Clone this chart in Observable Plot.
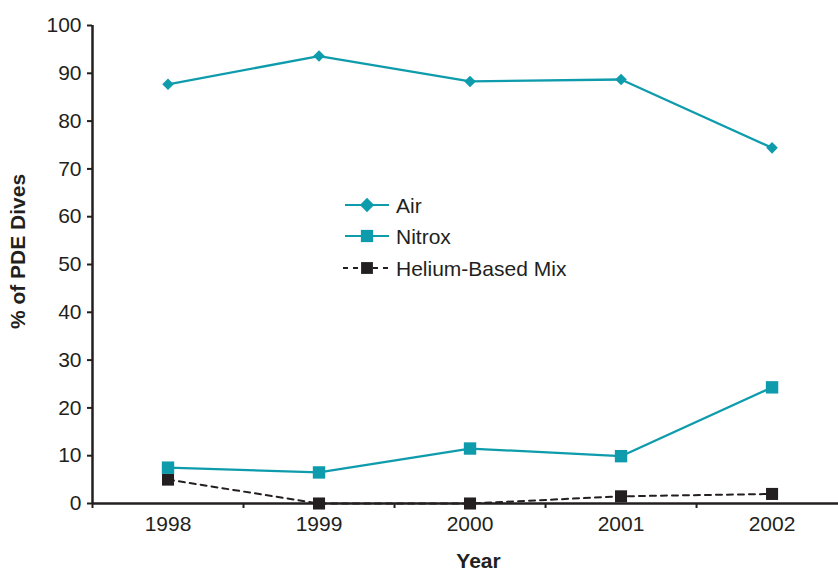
<!DOCTYPE html>
<html>
<head>
<meta charset="utf-8">
<script src="https://cdn.jsdelivr.net/npm/d3@7"></script>
<script src="https://cdn.jsdelivr.net/npm/@observablehq/plot@0.6"></script>
<style>
  html, body { margin: 0; padding: 0; background: #fff; }
  #wrap { position: relative; width: 838px; height: 573px; font-family: "Liberation Sans", Arial, sans-serif; }
  #legend { position: absolute; left: 0; top: 0; pointer-events: none; }
</style>
</head>
<body>
<div id="wrap"></div>
<script>
const years = [1998, 1999, 2000, 2001, 2002];
const air = [87.7, 93.6, 88.3, 88.7, 74.4];
const nitrox = [7.5, 6.5, 11.5, 9.9, 24.3];
const helium = [5.0, 0, 0, 1.5, 2.0];
const yTicks = [0, 10, 20, 30, 40, 50, 60, 70, 80, 90, 100];
const seriesNames = ["Air", "Nitrox", "Helium-Based Mix"];

const TEAL = "#0E9CAC";
const DARK = "#231F20";

const airData = years.map((year, i) => ({year, value: air[i]}));
const nitroxData = years.map((year, i) => ({year, value: nitrox[i]}));
const heliumData = years.map((year, i) => ({year, value: helium[i]}));
const boundaries = years.map(y => y - 0.5);

const chart = Plot.plot({
  width: 838,
  height: 573,
  marginLeft: 92,
  marginRight: 0,
  marginTop: 25,
  marginBottom: 70,
  style: {fontFamily: "Liberation Sans, Arial, sans-serif", fontSize: "21px", color: DARK, background: "#fff"},
  x: {domain: [1997.5, 2002.44]},
  y: {domain: [0, 100]},
  marks: [
    Plot.axisY({ticks: yTicks, tickSize: 5, tickPadding: 6, label: null, strokeWidth: 2, stroke: DARK, fill: DARK, fontSize: 21}),
    Plot.axisX({ticks: boundaries, tickSize: 5, tickFormat: () => "", label: null, strokeWidth: 2, stroke: DARK}),
    Plot.axisX({ticks: years, tickSize: 0, tickPadding: 13, tickFormat: d => String(d), label: null, fill: DARK, fontSize: 21}),
    Plot.ruleX([1997.5], {stroke: DARK, strokeWidth: 2.5}),
    Plot.ruleY([0], {stroke: DARK, strokeWidth: 2.5}),
    Plot.line(heliumData, {x: "year", y: "value", stroke: DARK, strokeWidth: 2, strokeDasharray: "6,5"}),
    Plot.line(nitroxData, {x: "year", y: "value", stroke: TEAL, strokeWidth: 2.3}),
    Plot.line(airData, {x: "year", y: "value", stroke: TEAL, strokeWidth: 2.3}),
    Plot.dot(heliumData, {x: "year", y: "value", symbol: "square", r: 6.8, fill: DARK, stroke: null}),
    Plot.dot(nitroxData, {x: "year", y: "value", symbol: "square", r: 7, fill: TEAL, stroke: null}),
    Plot.dot(airData, {x: "year", y: "value", symbol: "diamond2", r: 5.2, fill: TEAL, stroke: null}),
    Plot.text(["Year"], {frameAnchor: "bottom", dy: 64, dx: 13, fontWeight: "bold", fontSize: 21, fill: DARK, lineAnchor: "bottom"}),
    Plot.text(["% of PDE Dives"], {frameAnchor: "left", textAnchor: "middle", dx: -74, dy: -13, rotate: -90, fontWeight: "bold", fontSize: 21, fill: DARK})
  ]
});
document.getElementById("wrap").appendChild(chart);

// Legend overlay
const legendItems = [
  {name: seriesNames[0], color: TEAL, symbol: d3.symbolDiamond2, size: 130, dash: null, y: 205},
  {name: seriesNames[1], color: TEAL, symbol: d3.symbolSquare, size: 150, dash: null, y: 236},
  {name: seriesNames[2], color: DARK, symbol: d3.symbolSquare, size: 140, dash: "5,5", y: 268}
];
const svg = d3.select("#wrap").append("svg")
  .attr("id", "legend").attr("width", 838).attr("height", 573);
const g = svg.selectAll("g").data(legendItems).join("g")
  .attr("transform", d => `translate(0,${d.y})`);
g.append("line").attr("x1", d => d.dash ? 343 : 345).attr("x2", 389).attr("y1", 0).attr("y2", 0)
  .attr("stroke", d => d.color).attr("stroke-width", 2)
  .attr("stroke-dasharray", d => d.dash);
g.append("path").attr("transform", "translate(367,0)")
  .attr("d", d => d3.symbol(d.symbol, d.size)())
  .attr("fill", d => d.color);
g.append("text").attr("x", 396).attr("y", 0).attr("dy", "0.36em")
  .attr("font-family", "Liberation Sans, Arial, sans-serif").attr("font-size", 21)
  .attr("fill", DARK).text(d => d.name);
</script>
</body>
</html>
